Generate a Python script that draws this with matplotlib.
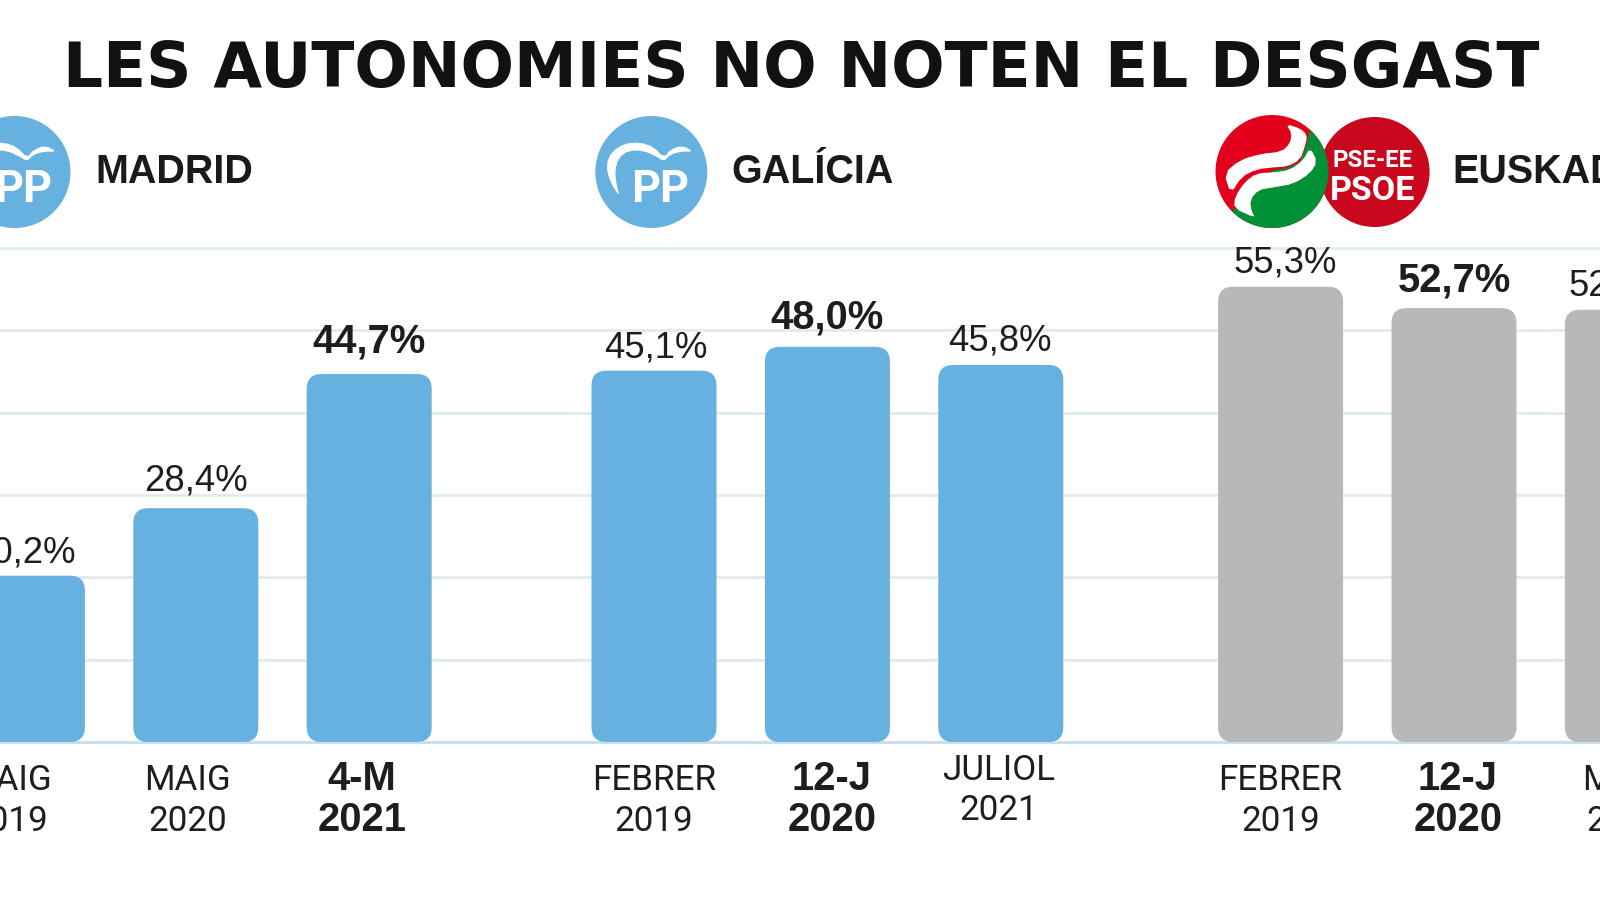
import matplotlib
matplotlib.use("Agg")
import matplotlib.pyplot as plt
import numpy as np
from matplotlib.patches import FancyBboxPatch, Circle, Polygon

# ---- data ----
title = "LES AUTONOMIES NO NOTEN EL DESGAST"
regions = ["MADRID", "GALÍCIA", "EUSKADI"]
madrid_values = [20.2, 28.4, 44.7]
galicia_values = [45.1, 48.0, 45.8]
euskadi_values = [55.3, 52.7, 52.5]
madrid_labels = [("MAIG", "2019"), ("MAIG", "2020"), ("4-M", "2021")]
galicia_labels = [("FEBRER", "2019"), ("12-J", "2020"), ("JULIOL", "2021")]
euskadi_labels = [("FEBRER", "2019"), ("12-J", "2020"), ("MAIG", "2021")]
madrid_bold = 2
galicia_bold = 1
euskadi_bold = 1
y_ticks = [0, 10, 20, 30, 40, 50, 60]

# ---- style / layout ----
W, H = 1600, 900
BLUE, GREY = "#66B1DF", "#B8B8B8"
INK = "#1E1E1E"
GRID = "#DDEAF1"
group_start = [22.4, 654.0, 1280.6]
step = 173.4
bar_w = 125
px_per_unit = 8.22
y0_px, y60_px = 742, 248
label_dx = [[-14, -8, -7], [0, 4.5, -2], [0, 4, -2]]
label_raise = [[0, 0, 0], [0, 0, 10.5], [0, 0, 0]]
value_dx = [[1, 0, 0], [2, 0, -1], [5, 0, -7]]
value_raise = [[1, 5, 9], [1, 6, 2], [2, 4, 2]]

fig = plt.figure(figsize=(16, 9), dpi=100, facecolor="white")
px = 72 / 100  # points per pixel

ax = fig.add_axes([0, (H - y0_px) / H, 1, (y0_px - y60_px) / H])
ax.set_xlim(0, W)
ax.set_ylim(0, 60)
ax.set_yticks(y_ticks)
ax.set_xticks([])
ax.tick_params(length=0, labelleft=False)
for s in ax.spines.values():
    s.set_visible(False)
ax.grid(axis="y", color=GRID, lw=2.6 * px, clip_on=False)
ax.set_axisbelow(True)
ax.axhline(0, color="#C9E0EC", lw=3 * px, clip_on=False, zorder=1)

groups = [
    (madrid_values, madrid_labels, madrid_bold, BLUE),
    (galicia_values, galicia_labels, galicia_bold, BLUE),
    (euskadi_values, euskadi_labels, euskadi_bold, GREY),
]
for g, (vals, labs, bold, col) in enumerate(groups):
    for i, (v, lab) in enumerate(zip(vals, labs)):
        xc = group_start[g] + i * step
        ax.add_patch(FancyBboxPatch(
            (xc - bar_w / 2, 0), bar_w, v,
            boxstyle="round,pad=0,rounding_size=15",
            mutation_aspect=1 / px_per_unit, fc=col, ec="none", zorder=3))
        isb = i == bold
        ax.annotate(f"{v:.1f}%".replace(".", ","), (xc, v),
                    xytext=(value_dx[g][i] * px, (12.5 + value_raise[g][i]) * px),
                    textcoords="offset points",
                    ha="center", va="baseline",
                    fontsize=(40 if isb else 36.5) * px,
                    family="Liberation Sans", weight="bold" if isb else "normal",
                    color=INK, annotation_clip=False, zorder=4)
        lx = label_dx[g][i]
        rz = label_raise[g][i]
        for line, base in zip(lab, (-48, -88.7)):
            ax.annotate(line, (xc, 0), xytext=(lx * px, (base + rz) * px),
                        textcoords="offset points", ha="center", va="baseline",
                        fontsize=(40 if isb else 35) * px,
                        family="Liberation Sans" if isb else "Roboto",
                        weight="bold" if isb else "normal",
                        color=INK, annotation_clip=False, zorder=4)

# overlay in pixel space for header items
ov = fig.add_axes([0, 0, 1, 1], facecolor="none")
ov.set_xlim(0, W)
ov.set_ylim(H, 0)
ov.axis("off")

ov.text(801, 87.5, title, ha="center", va="baseline", fontsize=63 * px,
        family="DejaVu Sans", weight="bold", color="#111111")

for name, x in zip(regions, (95, 731, 1452)):
    ov.text(x, 183, name, ha="left", va="baseline", fontsize=39.5 * px,
            family="Liberation Sans", weight="bold", color="#1A1A1A")


def chaikin(points, n=2):
    p = np.asarray(points, float)
    for _ in range(n):
        q = np.roll(p, -1, axis=0)
        p = np.column_stack([0.75 * p + 0.25 * q, 0.25 * p + 0.75 * q]).reshape(-1, 2)
    return p


wing = [(90, 262), (60, 215), (48, 165), (65, 125), (105, 100), (150, 97), (190, 110),
        (222, 143), (240, 120), (275, 106), (312, 125), (270, 125), (240, 135), (222, 154),
        (200, 140), (160, 122), (115, 122), (85, 145), (75, 185), (80, 225)]
for cx in (14.5, 651.3):
    ov.add_patch(Circle((cx, 172), 56, fc=BLUE, ec="none"))
    ov.add_patch(Polygon(chaikin([(cx + (a - 184) / 3, 172 + (b - 186) / 3) for a, b in wing], 1),
                         closed=True, fc="white", ec="none"))
    ov.text(cx + 9, 201.5, "PP", ha="center", va="baseline", fontsize=45 * px,
            family="Roboto", weight="bold", color="white")


def q(points):
    return [(1210 + a / 3, 110 + b / 3) for a, b in points]


# PSE-EE circle
ov.add_patch(Circle((1374.6, 172), 55, fc="#C9071D", ec="none"))
ov.text(1373, 167, "PSE-EE", ha="center", va="baseline", fontsize=24 * px,
        family="Roboto", weight="bold", color="white")
ov.text(1373, 200, "PSOE", ha="center", va="baseline", fontsize=34 * px,
        family="Roboto", weight="bold", color="white")

# red / green circle
clipc = Circle((1272, 171.5), 56.5, transform=ov.transData, fc="none", ec="none")
ov.add_patch(Circle((1272, 171.5), 56.5, fc="#E2001A", ec="none"))
ov.add_patch(clipc)
green = q([(300, 60), (288, 110), (270, 155), (230, 175), (190, 180), (130, 230), (70, 300),
           (50, 380), (380, 380), (380, 60)])
ribbon1 = chaikin(q([(228, 42), (270, 55), (292, 75), (285, 110), (270, 150), (230, 170), (190, 172),
                     (140, 178), (95, 200), (62, 252), (42, 190), (90, 150), (150, 132),
                     (215, 125), (240, 100), (245, 70)]), 1)
ribbon2 = chaikin(q([(300, 112), (322, 155), (300, 190), (250, 222), (190, 232), (145, 240),
                     (120, 270), (125, 305), (136, 324), (72, 295), (75, 260), (105, 215),
                     (140, 190), (190, 187), (240, 180), (280, 150)]), 1)
for pts, col in ((green, "#009036"), (ribbon1, "white"), (ribbon2, "white")):
    p = Polygon(pts, closed=True, fc=col, ec="none")
    ov.add_patch(p)
    p.set_clip_path(clipc)

fig.savefig("out.png", dpi=100, facecolor="white")
